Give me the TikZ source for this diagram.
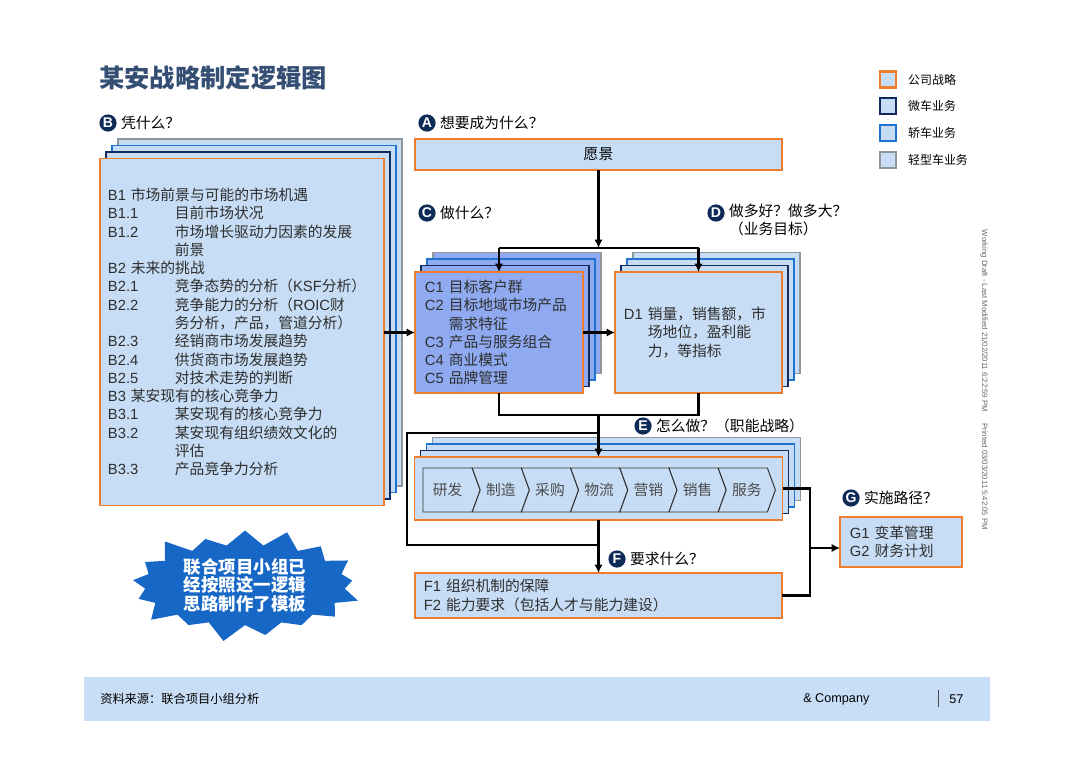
\documentclass[tikz,border=0pt]{standalone}
\usepackage{fontspec}
\setmainfont{Liberation Sans}
\newfontfamily\cjk{Noto Sans CJK SC}
\usetikzlibrary{positioning,shapes.symbols,arrows.meta}

\definecolor{edgeorange}{HTML}{EE7D2E}
\definecolor{edgenavy}{HTML}{0F2C5C}
\definecolor{edgeblue}{HTML}{1E74D0}
\definecolor{edgegrey}{HTML}{8F969C}
\definecolor{boxfill}{HTML}{C7DDF5}
\definecolor{cfill}{HTML}{8FAAF0}
\definecolor{badgenavy}{HTML}{0E2A57}
\definecolor{titleblue}{HTML}{344F73}
\definecolor{burst}{HTML}{1667C6}
\definecolor{footfill}{HTML}{C8DEF6}

% label column + chinese text
\newcommand\itm[2]{\makebox[1.675cm][l]{#1}{\cjk #2}}

\begin{document}
\begin{tikzpicture}[
        x=0.025cm, y=-0.025cm,
        box/.style={draw=edgeorange, line width=1.3pt, fill=boxfill, inner sep=0pt, outer sep=0pt, align=left,
            font=\fontsize{10.5}{13}\selectfont, text=black!82},
        layer/.style={line width=1.3pt, fill=boxfill, inner sep=0pt, outer sep=0pt},
        badge/.style={circle, fill=badgenavy, text=white, inner sep=0pt, minimum size=0.43cm,
            font=\bfseries\fontsize{10}{10}\selectfont},
        head/.style={inner sep=0pt, align=left, font=\cjk\fontsize{10.5}{13}\selectfont, text=black},
        chev/.style={draw=black!80, line width=0.7pt, fill=boxfill},
        chevtext/.style={inner sep=0pt, font=\cjk\fontsize{10.5}{12}\selectfont, text=black!70},
        key/.style={line width=1.5pt, fill=boxfill, minimum size=0.4cm, inner sep=0pt},
        legend/.style={inner sep=0pt, font=\cjk\fontsize{8.5}{10}\selectfont},
        wire/.style={line width=1.8pt, black},
        arrow/.style={wire, -{Latex[length=6pt,width=6pt]}}
    ]
        \useasboundingbox (0,0) rectangle (1080,763);

        % Title and legend
        \node[anchor=west, inner sep=0pt, font=\cjk\bfseries\fontsize{18}{20}\selectfont, text=titleblue] (title) at (99,78) {某安战略制定逻辑图};
        \foreach \col/\txt [count=\i from 0] in {edgeorange/公司战略,edgenavy/微车业务,edgeblue/轿车业务,edgegrey/轻型车业务} {
            \node[key, draw=\col] (key\i) at (888,{79.5+26.8*\i}) {};
            \node[legend, right=0.27cm of key\i] (keytext\i) {\txt};
        }

        % Question badges
        \node[badge] (bB) at (108,123) {B};
        \node[head, right=0.1cm of bB] (qB) {凭什么？};
        \node[badge] (bA) at (427,123) {A};
        \node[head, right=0.1cm of bA] (qA) {想要成为什么？};
        \node[badge] (bC) at (427,213) {C};
        \node[head, right=0.1cm of bC] (qC) {做什么？};
        \node[badge] (bD) at (716,213) {D};
        \node[head, right=0.1cm of bD, anchor=north west, yshift=0.23cm] (qD) {做多好？做多大？\\（业务目标）};
        \node[badge] (bE) at (643,426) {E};
        \node[head, right=0.1cm of bE] (qE) {怎么做？（职能战略）};
        \node[badge] (bF) at (617,559) {F};
        \node[head, right=0.1cm of bF] (qF) {要求什么？};
        \node[badge] (bG) at (851,498) {G};
        \node[head, right=0.1cm of bG] (qG) {实施路径？};

        % A: vision
        \node[box, minimum width=9.175cm, minimum height=0.775cm, font=\cjk\fontsize{10.5}{13}\selectfont, text=black] (vision) at (598.5,154.5) {愿景};

        % B: basis stack
        \foreach \k/\col in {3/edgegrey,2/edgeblue,1/edgenavy}
            \node[layer, draw=\col, minimum width=7.1cm, minimum height=8.675cm] (basis\k) at ({242+6*\k},{332-6.5*\k}) {};
        \node[box, minimum height=8.675cm, text width=6.7cm, inner xsep=0.2cm] (basis) at (242,332) {
            B1 {\cjk 市场前景与可能的市场机遇}\\
            \itm{B1.1}{目前市场状况}\\
            \itm{B1.2}{市场增长驱动力因素的发展}\\
            \itm{}{前景}\\
            B2 {\cjk 未来的挑战}\\
            \itm{B2.1}{竞争态势的分析（{\rmfamily KSF}分析）}\\
            \itm{B2.2}{竞争能力的分析（{\rmfamily ROIC}财}\\
            \itm{}{务分析，产品，管道分析）}\\
            \itm{B2.3}{经销商市场发展趋势}\\
            \itm{B2.4}{供货商市场发展趋势}\\
            \itm{B2.5}{对技术走势的判断}\\
            B3 {\cjk 某安现有的核心竞争力}\\
            \itm{B3.1}{某安现有的核心竞争力}\\
            \itm{B3.2}{某安现有组织绩效文化的}\\
            \itm{}{评估}\\
            \itm{B3.3}{产品竞争力分析}};

        % C: what stack
        \foreach \k/\col in {3/edgegrey,2/edgeblue,1/edgenavy}
            \node[layer, draw=\col, fill=cfill, minimum width=4.2cm, minimum height=3.025cm] (what\k) at ({499+6*\k},{332.5-6.5*\k}) {};
        \node[box, fill=cfill, minimum height=3.025cm, text width=3.7cm, inner xsep=0.25cm] (what) at (499,332.5) {
            C1 {\cjk 目标客户群}\\
            C2 {\cjk 目标地域市场产品}\\
            \phantom{C2 }{\cjk 需求特征}\\
            C3 {\cjk 产品与服务组合}\\
            C4 {\cjk 商业模式}\\
            C5 {\cjk 品牌管理}};

        % D: goal stack
        \foreach \k/\col in {3/edgegrey,2/edgeblue,1/edgenavy}
            \node[layer, draw=\col, minimum width=4.175cm, minimum height=3.025cm] (goal\k) at ({698.5+6*\k},{332.5-6.5*\k}) {};
        \node[box, minimum height=3.025cm, text width=3.725cm, inner xsep=0.225cm] (goal) at (698.5,332.5) {
            D1 {\cjk 销量，销售额，市}\\
            \phantom{D1 }{\cjk 场地位，盈利能}\\
            \phantom{D1 }{\cjk 力，等指标}};

        % E: how stack
        \foreach \k/\col in {3/edgegrey,2/edgeblue,1/edgenavy}
            \node[layer, draw=\col, minimum width=9.2cm, minimum height=1.575cm] (how\k) at ({598.5+6*\k},{488.5-6.5*\k}) {};
        \node[box, minimum width=9.2cm, minimum height=1.575cm] (how) at (598.5,488.5) {};

        % Value chain
        \foreach \t [count=\i from 0] in {研发,制造,采购,物流,营销,销售,服务} {
            \pgfmathsetmacro{\xl}{423+49.2*\i}
            \pgfmathsetmacro{\xr}{\xl+49.2}
            \pgfmathsetmacro{\xn}{\xl+8*(\i>0)}
            \pgfmathsetmacro{\xc}{\xl+24.6+4*(\i>0)}
            \draw[chev] (\xl,468) -- (\xr,468) -- ({\xr+8},490) -- (\xr,512) -- (\xl,512) -- (\xn,490) -- cycle;
            \node[chevtext] (vc\i) at (\xc,490) {\t};
        }

        % F: need
        \node[box, minimum height=1.125cm, text width=8.725cm, inner xsep=0.225cm] (need) at (598.5,595.5) {
            F1 {\cjk 组织机制的保障}\\
            F2 {\cjk 能力要求（包括人才与能力建设）}};

        % G: route
        \node[box, minimum height=1.25cm, text width=2.55cm, inner xsep=0.25cm] (route) at (901,542) {
            G1 {\cjk 变革管理}\\
            G2 {\cjk 财务计划}};

        % Connections
        \coordinate (split) at (598.5,248);
        \draw[arrow] (vision) -- (split);
        \draw[wire] (what.north |- split) -- (goal.north |- split);
        \draw[arrow] (what.north |- split) -- (what.north);
        \draw[arrow] (goal.north |- split) -- (goal.north);

        \draw[arrow] (basis.east |- what.west) -- (what.west);
        \draw[arrow] (what.east) -- (goal.west);

        \coordinate (merge) at (598.5,415);
        \draw[wire] (what.south) |- (merge) -| (goal.south);
        \draw[arrow] (merge) -- (how.north);

        \coordinate (byin) at (598.5,433);
        \coordinate (byleft) at (407,490);
        \coordinate (byout) at (598.5,545);
        \draw[wire] (byin) -| (byleft) |- (byout);

        \draw[arrow] (how.south) -- (need.north);

        \coordinate (gjoin) at (810,548);
        \draw[wire] (how.east) -| (gjoin);
        \draw[wire] (need.east) -| (gjoin);
        \draw[arrow] (gjoin) -- (gjoin -| route.west);

        % Starburst note
        \node[starburst, starburst points=17, starburst point height=0.5cm, fill=burst, text=white, align=center,
            inner xsep=7pt, inner ysep=1pt, font=\cjk\bfseries\fontsize{12.4}{13.2}\selectfont] (note) at (245,585) {联合项目小组已\\经按照这一逻辑\\思路制作了模板};

        % Side stamp
        \node[rotate=-90, inner sep=0pt, font=\fontsize{5.5}{6}\selectfont, text=black!60] (stamp) at (984,380)
            {Working Draft - Last Modified 21/02/2011 6:22:59 PM\hspace{1.5em}Printed 03/03/2011 5:42:05 PM};

        % Footer
        \node[fill=footfill, minimum width=22.65cm, minimum height=1.1cm, inner sep=0pt] (foot) at (537,699) {};
        \node[anchor=west, inner sep=0pt, font=\cjk\fontsize{8.7}{10}\selectfont] (source) at (100,699) {资料来源：联合项目小组分析};
        \node[anchor=west, inner sep=0pt, font=\fontsize{9}{10}\selectfont] (firm) at (803,699) {\& Company};
        \draw[line width=0.7pt, black!70] (938,690) -- (938,707);
        \node[anchor=west, inner sep=0pt, font=\fontsize{9}{10}\selectfont] (page) at (949,699) {57};
    \end{tikzpicture}
\end{document}
